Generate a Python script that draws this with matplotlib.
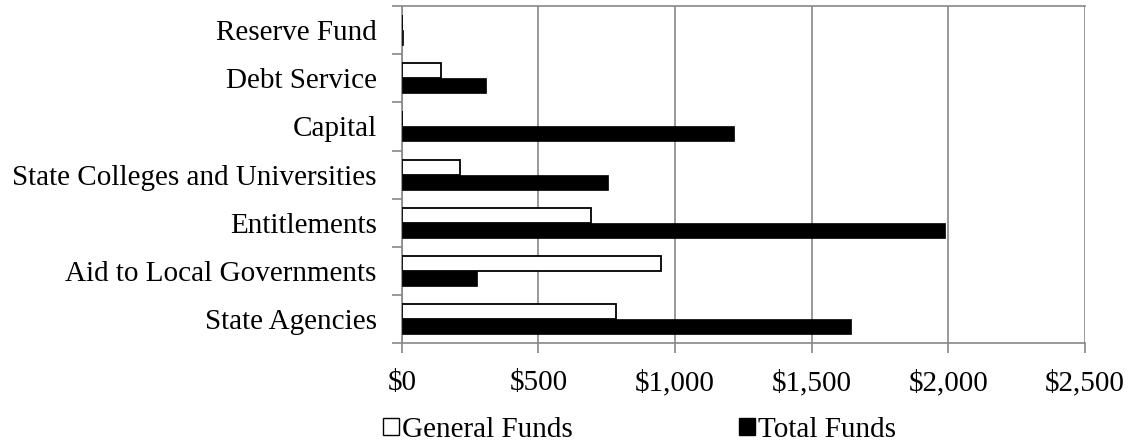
import matplotlib.pyplot as plt
import matplotlib.ticker as ticker
from matplotlib.patches import Patch
import numpy

# categories listed bottom -> top
categories = ['State Agencies', 'Aid to Local Governments', 'Entitlements',
              'State Colleges and Universities', 'Capital', 'Debt Service', 'Reserve Fund']
general_funds = [785, 948, 692, 212, 2, 142, 0]
total_funds = [1645, 276, 1989, 755, 1216, 307, 5]

plt.rcParams['font.family'] = ['Liberation Serif', 'DejaVu Serif']

fig = plt.figure(figsize=(11.32, 4.44), dpi=100)
ax = fig.add_axes([0.355, 0.227, 0.6035, 0.7595])

ind = numpy.arange(len(categories))
h = 0.31
ax.barh(ind + h/2, general_funds, height=h, color='white', edgecolor='black', linewidth=1.3, zorder=3)
ax.barh(ind - h/2, total_funds, height=h, color='black', edgecolor='black', linewidth=0.5, zorder=3)

ax.set_xlim(0, 2500)
ax.set_ylim(-0.5, len(categories) - 0.5)
ax.xaxis.set_major_locator(ticker.MultipleLocator(500))
ax.xaxis.set_major_formatter(ticker.FuncFormatter(lambda v, p: '${:,.0f}'.format(v)))
ax.set_yticks(ind)
ax.set_yticklabels(categories)
ax.yaxis.set_minor_locator(ticker.FixedLocator(numpy.arange(-0.5, len(categories), 1.0)))
ax.tick_params(axis='y', which='major', length=0, pad=18, labelsize=21)
ax.tick_params(axis='y', which='minor', length=7, color='#888888', width=1.2)
ax.tick_params(axis='x', which='major', length=7, color='#888888', width=1.2, pad=12, labelsize=21)

ax.grid(axis='x', color='#888888', linewidth=1.2, zorder=0)
for s in ax.spines.values():
    s.set_color('#888888')
    s.set_linewidth(1.2)
ax.spines['right'].set_visible(False)

handles = [Patch(facecolor='white', edgecolor='black', linewidth=1),
           Patch(facecolor='black', edgecolor='black')]
fig.legend(handles, ['General Funds', 'Total Funds'], loc='lower left',
           bbox_to_anchor=(0.315, -0.056), ncol=2, frameon=False, fontsize=21,
           handlelength=0.55, handleheight=0.55, handletextpad=0.1, columnspacing=5.7)

plt.savefig('out.png', dpi=100)
